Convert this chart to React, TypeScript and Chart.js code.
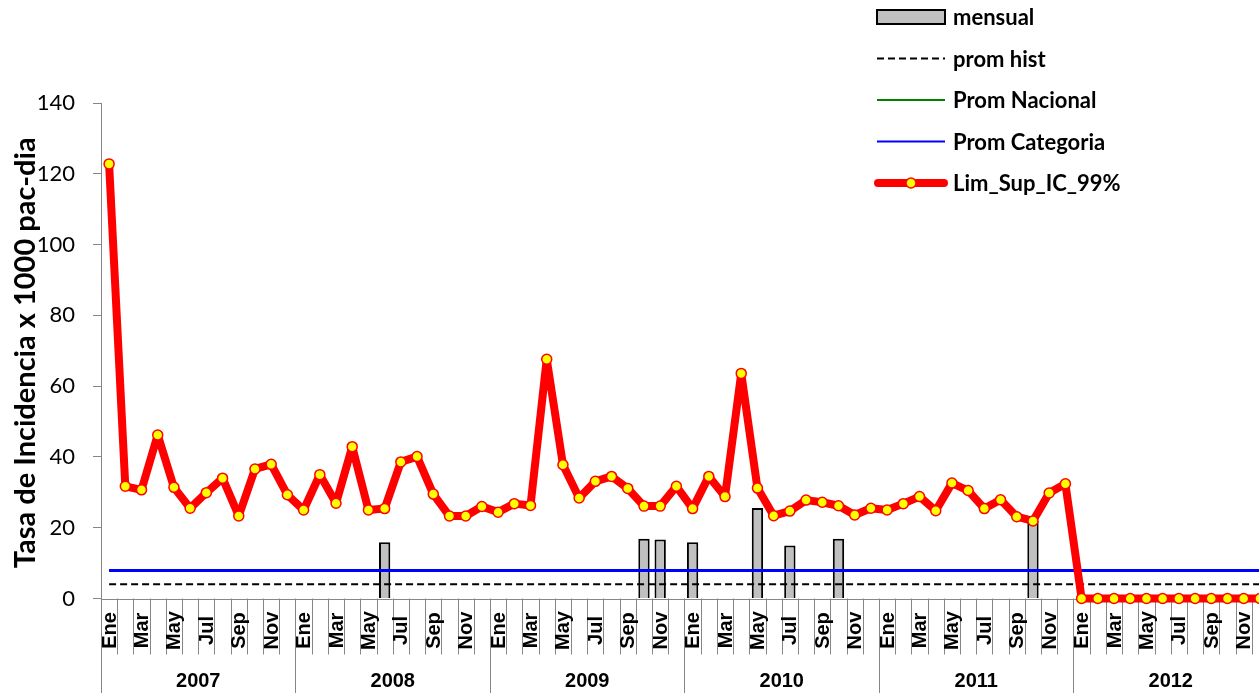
import React, { useEffect, useRef } from 'react';
import { Chart, registerables } from 'chart.js';

Chart.register(...registerables);

const MONTHS = ['Ene', 'Feb', 'Mar', 'Abr', 'May', 'Jun', 'Jul', 'Ago', 'Sep', 'Oct', 'Nov', 'Dic'];
const YEARS = ['2007', '2008', '2009', '2010', '2011', '2012'];

const MENSUAL = [
  null, null, null, null, null, null, null, null, null, null, null, null,
  null, null, null, null, null, 15.9, null, null, null, null, null, null,
  null, null, null, null, null, null, null, null, null, 16.9, 16.7, null,
  15.9, null, null, null, 25.6, null, 15.0, null, null, 16.9, null, null,
  null, null, null, null, null, null, null, null, null, 22.0, null, null,
  null, null, null, null, null, null, null, null, null, null, null, null,
];

const PROM_HIST = [
  4.0, 4.0, 4.0, 4.0, 4.0, 4.0, 4.0, 4.0, 4.0, 4.0, 4.0, 4.0,
  4.0, 4.0, 4.0, 4.0, 4.0, 4.0, 4.0, 4.0, 4.0, 4.0, 4.0, 4.0,
  4.0, 4.0, 4.0, 4.0, 4.0, 4.0, 4.0, 4.0, 4.0, 4.0, 4.0, 4.0,
  4.0, 4.0, 4.0, 4.0, 4.0, 4.0, 4.0, 4.0, 4.0, 4.0, 4.0, 4.0,
  4.0, 4.0, 4.0, 4.0, 4.0, 4.0, 4.0, 4.0, 4.0, 4.0, 4.0, 4.0,
  4.0, 4.0, 4.0, 4.0, 4.0, 4.0, 4.0, 4.0, 4.0, 4.0, 4.0, 4.0,
];

const PROM_NACIONAL = [
  7.9, 7.9, 7.9, 7.9, 7.9, 7.9, 7.9, 7.9, 7.9, 7.9, 7.9, 7.9,
  7.9, 7.9, 7.9, 7.9, 7.9, 7.9, 7.9, 7.9, 7.9, 7.9, 7.9, 7.9,
  7.9, 7.9, 7.9, 7.9, 7.9, 7.9, 7.9, 7.9, 7.9, 7.9, 7.9, 7.9,
  7.9, 7.9, 7.9, 7.9, 7.9, 7.9, 7.9, 7.9, 7.9, 7.9, 7.9, 7.9,
  7.9, 7.9, 7.9, 7.9, 7.9, 7.9, 7.9, 7.9, 7.9, 7.9, 7.9, 7.9,
  7.9, 7.9, 7.9, 7.9, 7.9, 7.9, 7.9, 7.9, 7.9, 7.9, 7.9, 7.9,
];

const PROM_CATEGORIA = [
  7.9, 7.9, 7.9, 7.9, 7.9, 7.9, 7.9, 7.9, 7.9, 7.9, 7.9, 7.9,
  7.9, 7.9, 7.9, 7.9, 7.9, 7.9, 7.9, 7.9, 7.9, 7.9, 7.9, 7.9,
  7.9, 7.9, 7.9, 7.9, 7.9, 7.9, 7.9, 7.9, 7.9, 7.9, 7.9, 7.9,
  7.9, 7.9, 7.9, 7.9, 7.9, 7.9, 7.9, 7.9, 7.9, 7.9, 7.9, 7.9,
  7.9, 7.9, 7.9, 7.9, 7.9, 7.9, 7.9, 7.9, 7.9, 7.9, 7.9, 7.9,
  7.9, 7.9, 7.9, 7.9, 7.9, 7.9, 7.9, 7.9, 7.9, 7.9, 7.9, 7.9,
];

const LIM_SUP_IC_99 = [
  122.8, 31.7, 30.7, 46.2, 31.4, 25.5, 29.9, 34.0, 23.3, 36.6, 37.9, 29.3,
  25.0, 35.0, 26.9, 42.9, 25.0, 25.4, 38.6, 40.1, 29.5, 23.3, 23.3, 26.0,
  24.4, 26.8, 26.3, 67.6, 37.8, 28.4, 33.1, 34.5, 31.1, 26.1, 26.1, 31.7,
  25.4, 34.5, 28.8, 63.6, 31.2, 23.4, 24.7, 27.8, 27.2, 26.2, 23.6, 25.5,
  25.0, 26.8, 28.8, 24.8, 32.6, 30.5, 25.4, 27.9, 23.1, 21.9, 29.8, 32.4,
  0, 0, 0, 0, 0, 0, 0, 0, 0, 0, 0, 0,
];

const Y_MIN = 0;
const Y_MAX = 140;
const Y_STEP = 20;
const Y_TITLE = 'Tasa de Incidencia x 1000 pac-dia';

const CATEGORIES = YEARS.flatMap((y) => MONTHS.map((m) => `${m} ${y}`));

const AXIS_GRAY = '#868686';

const axisPlugin = {
  id: 'customXAxis',
  beforeDatasetsDraw(chart: any) {
    const { ctx, chartArea, scales } = chart;
    const xs = scales.x;
    const n = CATEGORIES.length;
    const step = xs.getPixelForValue(1) - xs.getPixelForValue(0);
    const bottom = chartArea.bottom;
    const H = chart.height;
    ctx.save();
    ctx.strokeStyle = AXIS_GRAY;
    ctx.lineWidth = 1;
    ctx.beginPath();
    ctx.moveTo(chartArea.left, Math.round(bottom) + 0.5);
    ctx.lineTo(chartArea.right, Math.round(bottom) + 0.5);
    ctx.stroke();
    for (let i = 0; i <= n; i++) {
      const bx = Math.round(xs.getPixelForValue(0) - step / 2 + i * step) + 0.5;
      const yEnd = i % 12 === 0 ? H : bottom + 56;
      ctx.beginPath();
      ctx.moveTo(bx, bottom);
      ctx.lineTo(bx, yEnd);
      ctx.stroke();
    }
    ctx.fillStyle = '#000';
    ctx.font = 'bold 20px "Liberation Sans", Arial, sans-serif';
    ctx.textAlign = 'center';
    ctx.textBaseline = 'middle';
    for (let i = 0; i < n; i += 2) {
      const cx = xs.getPixelForValue(i);
      ctx.save();
      ctx.translate(cx + 1, bottom + 32);
      ctx.rotate(-Math.PI / 2);
      ctx.fillText(MONTHS[i % 12], 0, 0);
      ctx.restore();
    }
    YEARS.forEach((y, k) => {
      const cx = (xs.getPixelForValue(k * 12) + xs.getPixelForValue(k * 12 + 11)) / 2;
      ctx.fillText(y, cx, bottom + 83);
    });
    // y axis title
    const cy = (chartArea.top + chartArea.bottom) / 2;
    ctx.save();
    ctx.translate(35, cy + 2);
    ctx.rotate(-Math.PI / 2);
    ctx.font = 'bold 29px Lato, sans-serif';
    ctx.textBaseline = 'alphabetic';
    ctx.textAlign = 'center';
    ctx.fillText(Y_TITLE, 0, 0);
    ctx.restore();
    ctx.restore();
  },
  afterDraw(chart: any) {
    const { ctx } = chart;
    const ds = chart.data.datasets;
    const x0 = 877;
    const x1 = 945;
    const textX = 953;
    const rowY0 = 17;
    const rowStep = 41.5;
    ctx.save();
    ds.forEach((d: any, i: number) => {
      const y = rowY0 + i * rowStep;
      ctx.save();
      if (d.type === 'bar') {
        ctx.fillStyle = d.backgroundColor;
        ctx.fillRect(x0, y - 7, x1 - x0, 14);
        ctx.strokeStyle = d.borderColor;
        ctx.lineWidth = 2;
        ctx.strokeRect(x0, y - 7, x1 - x0, 14);
      } else {
        const thick = d.borderWidth > 4;
        ctx.strokeStyle = d.borderColor;
        ctx.lineWidth = thick ? d.borderWidth : 2;
        ctx.setLineDash(d.borderDash || []);
        ctx.lineCap = thick ? 'round' : 'butt';
        ctx.beginPath();
        ctx.moveTo(thick ? x0 + 1 : x0, y);
        ctx.lineTo(thick ? x1 - 1 : x1, y);
        ctx.stroke();
        if (d.pointRadius > 0) {
          ctx.setLineDash([]);
          ctx.beginPath();
          ctx.arc((x0 + x1) / 2, y, d.pointRadius, 0, Math.PI * 2);
          ctx.fillStyle = d.pointBackgroundColor;
          ctx.fill();
          ctx.lineWidth = 1.5;
          ctx.strokeStyle = d.pointBorderColor;
          ctx.stroke();
        }
      }
      ctx.restore();
      ctx.fillStyle = '#000';
      ctx.font = 'bold 22px Lato, sans-serif';
      ctx.textAlign = 'left';
      ctx.textBaseline = 'middle';
      ctx.fillText(d.label, textX, y + 1);
    });
    ctx.restore();
  },
};

export default function App() {
  const canvasRef = useRef<HTMLCanvasElement | null>(null);

  useEffect(() => {
    if (!canvasRef.current) return;
    const chart = new Chart(canvasRef.current, {
      type: 'bar',
      data: {
        labels: CATEGORIES,
        datasets: [
          {
            type: 'bar',
            label: 'mensual',
            data: MENSUAL as any,
            backgroundColor: '#c0c0c0',
            borderColor: '#000000',
            borderWidth: 2,
            barPercentage: 0.7,
            categoryPercentage: 1,
            order: 5,
          },
          {
            type: 'line',
            label: 'prom hist',
            data: PROM_HIST,
            borderColor: '#000000',
            borderWidth: 2,
            borderDash: [7, 4],
            pointRadius: 0,
            order: 4,
          },
          {
            type: 'line',
            label: 'Prom Nacional',
            data: PROM_NACIONAL,
            borderColor: '#008000',
            borderWidth: 3,
            pointRadius: 0,
            order: 3,
          },
          {
            type: 'line',
            label: 'Prom Categoria',
            data: PROM_CATEGORIA,
            borderColor: '#0000ff',
            borderWidth: 3,
            pointRadius: 0,
            order: 2,
          },
          {
            type: 'line',
            label: 'Lim_Sup_IC_99%',
            data: LIM_SUP_IC_99,
            borderColor: '#ff0000',
            borderWidth: 8,
            borderJoinStyle: 'round',
            pointRadius: 5,
            pointBackgroundColor: '#ffff00',
            pointBorderColor: '#ff0000',
            pointBorderWidth: 1.5,
            clip: false as any,
            order: 1,
          },
        ] as any,
      },
      options: {
        animation: false,
        responsive: false,
        layout: { padding: { left: 0, right: 22, top: 103, bottom: 94.5 } },
        plugins: { legend: { display: false }, tooltip: { enabled: false } },
        scales: {
          x: { display: false, offset: true },
          y: {
            min: Y_MIN,
            max: Y_MAX,
            ticks: {
              stepSize: Y_STEP,
              color: '#000',
              font: { family: 'Lato', size: 22 },
              padding: 18,
            },
            grid: {
              drawOnChartArea: false,
              drawTicks: true,
              tickLength: 8,
              color: AXIS_GRAY,
            },
            border: { display: true, color: AXIS_GRAY, width: 1 },
            title: { display: false },
            afterFit(scale: any) {
              scale.width = 101;
            },
          } as any,
        },
      },
      plugins: [axisPlugin],
    });
    return () => chart.destroy();
  }, []);

  return (
    <div
      style={{
        position: 'fixed',
        left: 0,
        top: 0,
        width: 1259,
        height: 693,
        overflow: 'hidden',
        background: '#fff',
      }}
    >
      <canvas ref={canvasRef} width={1290} height={693} style={{ display: 'block' }} />
    </div>
  );
}
